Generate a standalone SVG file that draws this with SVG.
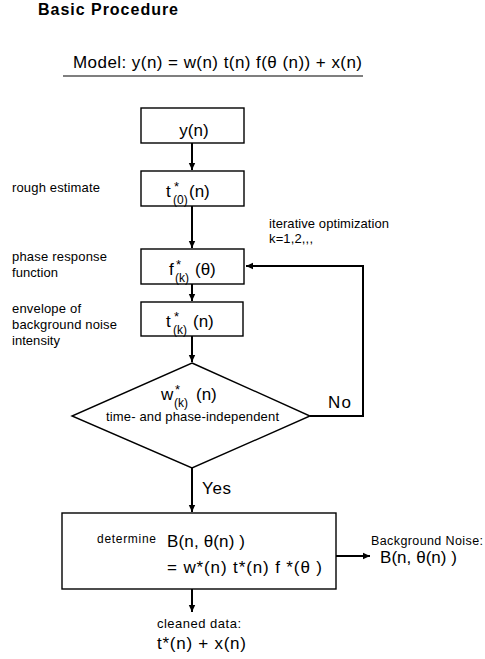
<svg xmlns="http://www.w3.org/2000/svg" width="485" height="659" viewBox="0 0 485 659">
<defs>
<marker id="ah" markerWidth="8" markerHeight="8" refX="7" refY="4" orient="auto" markerUnits="userSpaceOnUse">
<path d="M0,0.8 L7,4 L0,7.2 Z" fill="#000"/>
</marker>
</defs>
<style>
text{font-family:"Liberation Sans",Arial,sans-serif;fill:#000}
.box{fill:#fff;stroke:#000;stroke-width:1.4}
.c{fill:none;stroke:#000;stroke-width:2}
.lab{font-size:13px}
.big{font-size:17px}
.sub{font-size:12px}
.st{font-size:13px}
</style>
<rect width="485" height="659" fill="#fff"/>
<text x="38" y="15" font-size="16" font-weight="bold" textLength="140">Basic Procedure</text>
<g id="model">
<text x="73" y="68" font-size="17" textLength="289">Model: y(n) = w(n) t(n) f(θ (n)) + x(n)</text>
<line x1="63" y1="76" x2="363" y2="76" stroke="#000" stroke-width="1.2"/>
</g>
<g id="connectors">
<line class="c" x1="192" y1="143" x2="192" y2="170" marker-end="url(#ah)"/>
<line class="c" x1="192" y1="206" x2="192" y2="248" marker-end="url(#ah)"/>
<line class="c" x1="192" y1="284" x2="192" y2="301" marker-end="url(#ah)"/>
<line class="c" x1="192" y1="336" x2="192" y2="362" marker-end="url(#ah)"/>
<polyline class="c" points="310,416 363,416 363,266 246,266" marker-end="url(#ah)"/>
<line class="c" x1="192" y1="468" x2="192" y2="512" marker-end="url(#ah)"/>
<line class="c" x1="336" y1="556" x2="370" y2="556" marker-end="url(#ah)"/>
<line class="c" x1="192" y1="589" x2="192" y2="612" marker-end="url(#ah)"/>
</g>
<g id="n_y">
<rect class="box" x="141" y="108" width="103" height="35"/>
<text class="big" x="194" y="136" font-size="18" text-anchor="middle">y(n)</text>
</g>
<g id="n_t0">
<rect class="box" x="141" y="171" width="103" height="35"/>
<text class="big"><tspan x="166" y="197">t</tspan><tspan class="st" x="174" y="191">*</tspan><tspan class="sub" x="173" y="204">(0)</tspan><tspan x="189" y="197">(n)</tspan></text>
</g>
<g id="n_f">
<rect class="box" x="141" y="249" width="103" height="35"/>
<text class="big"><tspan x="169" y="275">f</tspan><tspan class="st" x="176" y="269">*</tspan><tspan class="sub" x="175" y="282">(k)</tspan><tspan x="195" y="275">(θ)</tspan></text>
</g>
<g id="n_tk">
<rect class="box" x="141" y="302" width="102" height="34"/>
<text class="big"><tspan x="166" y="327">t</tspan><tspan class="st" x="174" y="321">*</tspan><tspan class="sub" x="173" y="334">(k)</tspan><tspan x="193" y="327">(n)</tspan></text>
</g>
<g id="n_w">
<polygon class="box" points="192,363 310,416 192,468 72,416"/>
<text class="big"><tspan x="161" y="400">w</tspan><tspan class="st" x="175" y="394">*</tspan><tspan class="sub" x="174" y="407">(k)</tspan><tspan x="196" y="400">(n)</tspan></text>
<text x="106" y="421" font-size="13" textLength="173">time- and phase-independent</text>
</g>
<g id="n_B">
<rect class="box" x="62" y="513" width="274" height="76"/>
<text x="97" y="543" font-size="12" textLength="59">determine</text>
<text x="167" y="547" font-size="17" textLength="78">B(n, θ(n) )</text>
<text x="167" y="573" font-size="17" textLength="155">= w*(n) t*(n) f *(θ  )</text>
</g>
<g id="labels">
<text class="lab" x="12" y="192" textLength="88">rough estimate</text>
<text class="lab" x="12" y="261" textLength="95">phase response</text>
<text class="lab" x="12" y="277" textLength="46">function</text>
<text class="lab" x="12" y="313" textLength="69">envelope of</text>
<text class="lab" x="12" y="329" textLength="105">background noise</text>
<text class="lab" x="12" y="345" textLength="48">intensity</text>
<text class="lab" x="269" y="228" textLength="120">iterative optimization</text>
<text class="lab" x="269" y="243" textLength="44">k=1,2,,,</text>
<text x="328" y="408" font-size="17" textLength="23">No</text>
<text x="202" y="494" font-size="17" textLength="29">Yes</text>
<text x="371" y="545" font-size="12.5" textLength="112">Background Noise:</text>
<text x="380" y="563" font-size="17" textLength="77">B(n, θ(n) )</text>
<text class="lab" x="157" y="628" textLength="84">cleaned data:</text>
<text x="157" y="649" font-size="17" textLength="89">t*(n) + x(n)</text>
</g>
</svg>
